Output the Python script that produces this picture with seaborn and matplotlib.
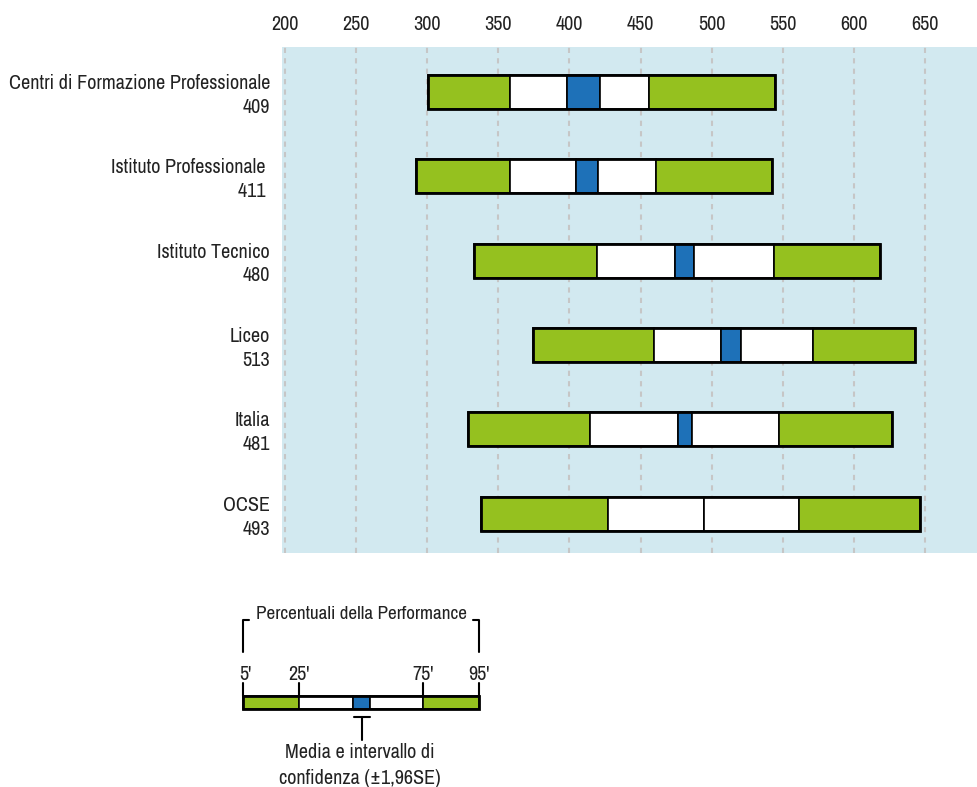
import numpy as np
import pandas as pd
import matplotlib
matplotlib.use("Agg")
import matplotlib.pyplot as plt
import matplotlib.transforms as mtransforms
from matplotlib import font_manager as fm
from matplotlib.patches import Rectangle
import seaborn as sns

# ---------------- data ----------------
groups = ["Centri di Formazione Professionale", "Istituto Professionale ",
          "Istituto Tecnico", "Liceo", "Italia", "OCSE"]
means = ["409", "411 ", "480", "513", "481", "493"]
p5 = [300.3, 291.9, 333.2, 374.3, 328.5, 337.5]
p25 = [358.4, 358.4, 419.1, 459.3, 414.7, 427.1]
ci_lo = [398.3, 404.4, 474.1, 506.3, 476.5, 494.9]
ci_hi = [421.7, 420.3, 487.4, 520.6, 486.5, 494.9]
p75 = [456.2, 461.1, 544.0, 571.2, 547.2, 561.3]
p95 = [544.3, 542.4, 618.4, 643.1, 627.1, 646.5]
xticks = [200, 250, 300, 350, 400, 450, 500, 550, 600, 650]

GREEN = "#95C11F"
BLUE = "#1E71B8"
BG = "#D2E9F0"
TXT = "#222222"

sns.set_theme(style="white")

# prefer a condensed sans if one is installed
cond = None
for f in fm.fontManager.ttflist:
    n = f.name.lower()
    if ("narrow" in n or "condensed" in n) and "mono" not in n and "serif" not in n.replace("sans", ""):
        cond = f.name
        break
if cond:
    FAM = [cond, 'Liberation Sans', 'DejaVu Sans']
    FS = 14.5
    LS = 1.32
else:
    FAM = ['Liberation Sans', 'DejaVu Sans']
    FS = 12.3
    LS = 1.5
plt.rcParams['font.family'] = FAM
plt.rcParams['font.weight'] = 'light'
plt.rcParams['text.color'] = TXT

fig = plt.figure(figsize=(9.78, 7.87), dpi=100)
ax = fig.add_axes([282 / 978, 1 - 553.3 / 787, 1 - 282 / 978, (553.3 - 46.7) / 787])
ax.set_facecolor(BG)

df = pd.DataFrame({"group": groups, "p5": p5, "p25": p25, "ci_lo": ci_lo,
                   "ci_hi": ci_hi, "p75": p75, "p95": p95})

segments = [("p5", "p25", GREEN), ("p25", "ci_lo", "white"), ("ci_lo", "ci_hi", BLUE),
            ("ci_hi", "p75", "white"), ("p75", "p95", GREEN)]
BW = 0.403
for lo, hi, col in segments:
    d = df.assign(w=df[hi] - df[lo])
    sns.barplot(data=d, x="w", y="group", orient="h", order=groups,
                left=d[lo].values, color=col, saturation=1, errorbar=None,
                width=BW, edgecolor="black", linewidth=1.2, ax=ax)
# outer frame
d = df.assign(w=df["p95"] - df["p5"])
sns.barplot(data=d, x="w", y="group", orient="h", order=groups,
            left=d["p5"].values, color="black", errorbar=None, width=BW,
            facecolor="none", edgecolor="black", linewidth=2.0, ax=ax)

ax.set_xlim(197.9, 687.3)
ax.set_ylim(5.468, -0.534)
ax.set_xticks(xticks)
ax.xaxis.tick_top()
ax.set_xlabel("")
ax.set_ylabel("")
ax.tick_params(axis="x", length=0, pad=9, labelsize=FS, labelcolor=TXT)
ax.set_yticks([])
ax.grid(axis="x", color="#C6C6C6", linestyle=(0, (2.5, 2.5)), linewidth=1.5)
ax.grid(axis="y", visible=False)
ax.set_axisbelow(True)
for s in ax.spines.values():
    s.set_visible(False)

# row labels (two lines, right aligned)
trans = mtransforms.offset_copy(ax.get_yaxis_transform(), fig=fig, x=-12, y=-3.4, units="dots")
for i, (g, m) in enumerate(zip(groups, means)):
    ax.text(0, i, f"{g}\n{m}", transform=trans, ha="right", va="center",
            multialignment="right", fontsize=FS, linespacing=LS, color=TXT)

# ---------------- legend schematic (pixel space) ----------------
lax = fig.add_axes([0, 0, 1, 1])
lax.set_xlim(0, 978)
lax.set_ylim(787, 0)
lax.axis("off")

leg_edges = [243.3, 299.3, 353.3, 369.7, 422.7, 478.7]
leg_cols = [GREEN, "white", BLUE, "white", GREEN]
leg_y0, leg_y1 = 696, 709
for x0, x1, c in zip(leg_edges[:-1], leg_edges[1:], leg_cols):
    lax.add_patch(Rectangle((x0, leg_y0), x1 - x0, leg_y1 - leg_y0,
                            facecolor=c, edgecolor="black", linewidth=1.2))
lax.add_patch(Rectangle((leg_edges[0], leg_y0), leg_edges[-1] - leg_edges[0],
                        leg_y1 - leg_y0, facecolor="none", edgecolor="black", linewidth=2))
pct_labels = ["5'", "25'", "75'", "95'"]
pct_x = [leg_edges[0], leg_edges[1], leg_edges[4], leg_edges[5]]
for lab, x in zip(pct_labels, pct_x):
    lax.plot([x, x], [683, leg_y0], color="black", lw=1.5)
    lax.text(x + (2 if lab == "5'" else 0), 674, lab, ha="center", va="center", fontsize=FS)
# bracket
lax.plot([leg_edges[0], leg_edges[0], leg_edges[0] + 6], [652, 620, 620], color="black", lw=1.5)
lax.plot([leg_edges[-1], leg_edges[-1], leg_edges[-1] - 6], [652, 620, 620], color="black", lw=1.5)
lax.text(361, 614, "Percentuali della Performance", ha="center", va="center", fontsize=FS * 0.95)
# T marker
tx = (leg_edges[2] + leg_edges[3]) / 2
lax.plot([tx - 8, tx + 8], [717, 717], color="black", lw=1.5)
lax.plot([tx, tx], [717, 740], color="black", lw=1.5)
lax.text(360, 753, "Media e intervallo di", ha="center", va="center", fontsize=FS)
lax.text(360, 778, "confidenza (\u00b11,96SE)", ha="center", va="center", fontsize=FS)

fig.savefig("out.png", dpi=100)
